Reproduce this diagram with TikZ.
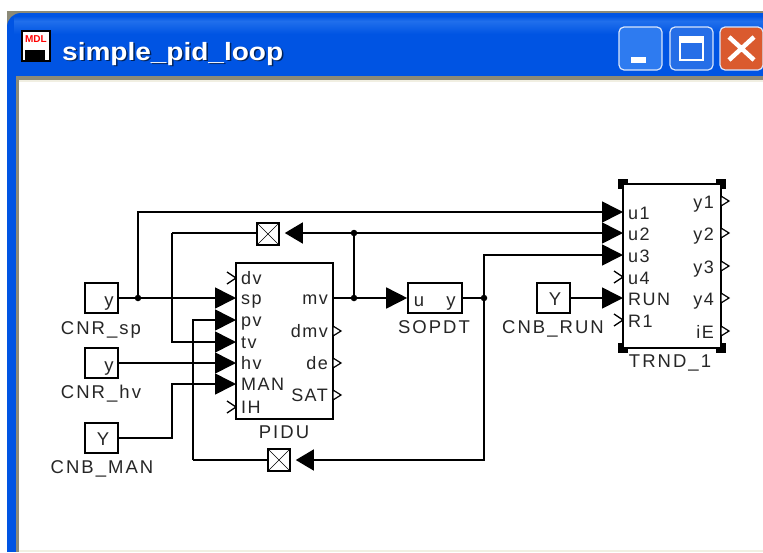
\documentclass[tikz,border=0pt]{standalone}
\usepackage{fontspec}
\usepackage{xcolor}
\setmainfont{Liberation Sans}
\newfontfamily\pinfont[LetterSpace=8]{Liberation Sans}
\newfontfamily\tagfont[LetterSpace=11]{Liberation Sans}
\usetikzlibrary{arrows.meta,calc}
\definecolor{xpblue}{HTML}{0054E3}
\definecolor{xplight}{HTML}{2E7BF0}
\definecolor{xpgray}{HTML}{8C8A78}
\definecolor{xpcream}{HTML}{F1EFE2}
\definecolor{xpred}{HTML}{DA5A2E}
\tikzset{
    wire/.style={line width=1.6pt},
    feed/.style={wire,-{Triangle[length=21pt,width=21pt]}},
    gainfeed/.style={wire,-{Triangle[length=18pt,width=21pt]},shorten >=5pt},
    blockbox/.style={draw,line width=1.6pt,fill=white,inner sep=0pt},
    dot/.style={circle,fill=black,inner sep=0pt,minimum size=6.5pt},
    pin/.style={font=\pinfont\fontsize{18}{18}\selectfont,inner sep=0pt,text=black!85},
    tag/.style={font=\tagfont\fontsize{18.5}{18.5}\selectfont,inner sep=0pt,text=black!85,anchor=base},
    crossbox/.style={blockbox,minimum size=22pt},
    winbtn/.style={draw=white!85!xpblue,line width=1.2pt,rounded corners=5pt}
}
\begin{document}
\begin{tikzpicture}[x=1pt,y=-1pt]
    \useasboundingbox (0,0) rectangle (763,552);
    % window
    \fill[xpgray] (7,11) rectangle (763,30);
    \fill[xpblue,rounded corners=14pt] (7,80) -- (7,13) -- (780,13) -- (780,80) -- cycle;
    \shade[top color=xpblue,bottom color=xplight!70!xpblue] (14,16) rectangle (763,21);
    \shade[top color=xplight!70!xpblue,bottom color=xpblue] (14,21) rectangle (763,34);
    \fill[xpblue] (7,60) rectangle (763,552);
    \fill[xpgray] (16,76) rectangle (763,552);
    \fill[xpcream] (19,80) rectangle (763,552);
    \fill[white] (19,82) rectangle (763,550);
    % title bar
    \node[fill=white,draw=black,line width=1.5pt,minimum width=28pt,minimum height=30pt,inner sep=0pt] (docicon) at (36,46) {};
    \node[text=red,font=\bfseries\fontsize{10}{10}\selectfont,inner sep=0pt] (mdltext) at (36,39) {MDL};
    \fill[black] (25,50) rectangle (45,60);
    \node[anchor=base west,text=black!60!xpblue,font=\bfseries\fontsize{25}{25}\selectfont,xscale=1.12,inner sep=0pt] (titleshadow) at (63.5,61.5) {simple\_pid\_loop};
    \node[anchor=base west,text=white,font=\bfseries\fontsize{25}{25}\selectfont,xscale=1.12,inner sep=0pt] (title) at (62,60) {simple\_pid\_loop};
    \draw[winbtn,fill=xplight] (619,27) rectangle (662,70);
    \fill[white] (631,57) rectangle (646,63);
    \draw[winbtn,fill=xpblue!85!white] (670,27) rectangle (713,70);
    \draw[white,line width=1.2pt] (680,37) rectangle (703,60);
    \fill[white] (680,37) rectangle (703,43);
    \draw[winbtn,fill=xpred] (720,27) rectangle (763,70);
    \draw[white,line width=4.5pt] (729,37) -- (754,60) (754,37) -- (729,60);

    % blocks
    \node[blockbox,minimum width=33pt,minimum height=30pt] (cnrsp) at (101.5,298) {};
    \node[tag] (cnrspout) at (109,306) {y};
    \node[tag] (cnrsplabel) at (101,334) {CNR\_sp};
    \node[blockbox,minimum width=33pt,minimum height=30pt] (cnrhv) at (101.5,363) {};
    \node[tag] (cnrhvout) at (109,371) {y};
    \node[tag] (cnrhvlabel) at (101,398) {CNR\_hv};
    \node[blockbox,minimum width=33pt,minimum height=30pt] (cnbman) at (101.5,438) {};
    \node[tag] (cnbmanout) at (103,445) {Y};
    \node[tag] (cnbmanlabel) at (102,473) {CNB\_MAN};
    \node[blockbox,minimum width=97pt,minimum height=156pt] (pidu) at (284.5,341) {};
    \node[tag] (pidulabel) at (284,438) {PIDU};
    \node[blockbox,minimum width=54pt,minimum height=30pt] (sopdt) at (435,298) {};
    \node[tag] (sopdtin) at (419,306) {u};
    \node[tag] (sopdtout) at (451,306) {y};
    \node[tag] (sopdtlabel) at (434,333) {SOPDT};
    \node[blockbox,minimum width=33pt,minimum height=30pt] (cnbrun) at (553.5,298) {};
    \node[tag] (cnbrunout) at (555,305) {Y};
    \node[tag] (cnbrunlabel) at (553,333) {CNB\_RUN};
    \node[crossbox] (gaintv) at (268,234) {};
    \draw (gaintv.north west) -- (gaintv.south east) (gaintv.north east) -- (gaintv.south west);
    \node[crossbox] (gainpv) at (279,460) {};
    \draw (gainpv.north west) -- (gainpv.south east) (gainpv.north east) -- (gainpv.south west);

    % trend block with its handles
    \foreach \cx/\cy in {623/184,721/184,623/348,721/348}
        \fill (\cx-5,\cy-5) rectangle (\cx+5,\cy+5);
    \node[blockbox,minimum width=98pt,minimum height=164pt] (trnd) at (672,266) {};
    \node[tag] (trndlabel) at (670,367) {TRND\_1};

    % pins
    \foreach \name/\py/\txt in {dv/278/dv,sp/298/sp,pv/320/pv,tv/342/tv,hv/363/hv,man/384/MAN,ih/407/IH}{
        \coordinate (pidu\name) at (236,\py);
        \node[pin,anchor=base west] (pidutxt\name) at (241,\py+6) {\txt};
    }
    \foreach \name/\py/\txt in {mv/298/mv,dmv/331/dmv,de/363/de,sat/395/SAT}{
        \coordinate (pidu\name) at (333,\py);
        \node[pin,anchor=base east] (pidutxt\name) at (328,\py+6.5) {\txt};
    }
    \foreach \name/\py/\txt in {uone/212/u1,utwo/233/u2,uthree/255/u3,ufour/277/u4,run/298/RUN,rone/320/R1}{
        \coordinate (trnd\name) at (623,\py);
        \node[pin,anchor=base west] (trndtxt\name) at (628,\py+7) {\txt};
    }
    \foreach \name/\py/\txt in {yone/201/y1,ytwo/233/y2,ythree/266/y3,yfour/298/y4,ie/331/iE}{
        \coordinate (trnd\name) at (721,\py);
        \node[pin,anchor=base east] (trndtxt\name) at (714,\py+7) {\txt};
    }

    % open pins
    \foreach \p in {pidudv,piduih,trndufour,trndrone}
        \draw[line width=1.3pt] ($(\p)+(-9,-6)$) -- (\p) -- ($(\p)+(-9,6)$);
    \foreach \p in {pidudmv,pidude,pidusat,trndyone,trndytwo,trndythree,trndyfour,trndie}
        \draw[line width=1.2pt,fill=white] (\p) -- ++(0,-5) -- ++(8,5) -- ++(-8,5) -- cycle;

    % junctions
    \node[dot] (jsp) at (138,298) {};
    \node[dot] (jmv) at (354,298) {};
    \node[dot] (jtop) at (354,233) {};
    \node[dot] (jout) at (484,298) {};
    \coordinate (bendman) at (172,438);
    \coordinate (bendtv) at (172,233);
    \coordinate (bendpv) at (193,460);

    % connectors
    \draw[feed] (cnrsp.east) -- (pidusp);
    \draw[feed] (jsp) |- (trnduone);
    \draw[feed] (cnrhv.east) -- (piduhv);
    \draw[feed] (cnbman.east) -- (bendman) |- (piduman);
    \draw[wire] (pidumv) -- (jmv);
    \draw[wire] (jmv) -- (jtop);
    \draw[feed] (jtop) -- (trndutwo);
    \draw[feed] (jmv) -- (sopdt.west);
    \draw[gainfeed] (jtop) -- (jtop -| gaintv.east);
    \draw[wire] (jtop -| gaintv.west) -- (bendtv);
    \draw[feed] (bendtv) |- (pidutv);
    \draw[wire] (sopdt.east) -- (jout);
    \draw[feed] (jout) |- (trnduthree);
    \draw[gainfeed] (jout) |- (gainpv.east);
    \draw[wire] (gainpv.west) -- (bendpv);
    \draw[feed] (bendpv) |- (pidupv);
    \draw[feed] (cnbrun.east) -- (trndrun);
\end{tikzpicture}
\end{document}
